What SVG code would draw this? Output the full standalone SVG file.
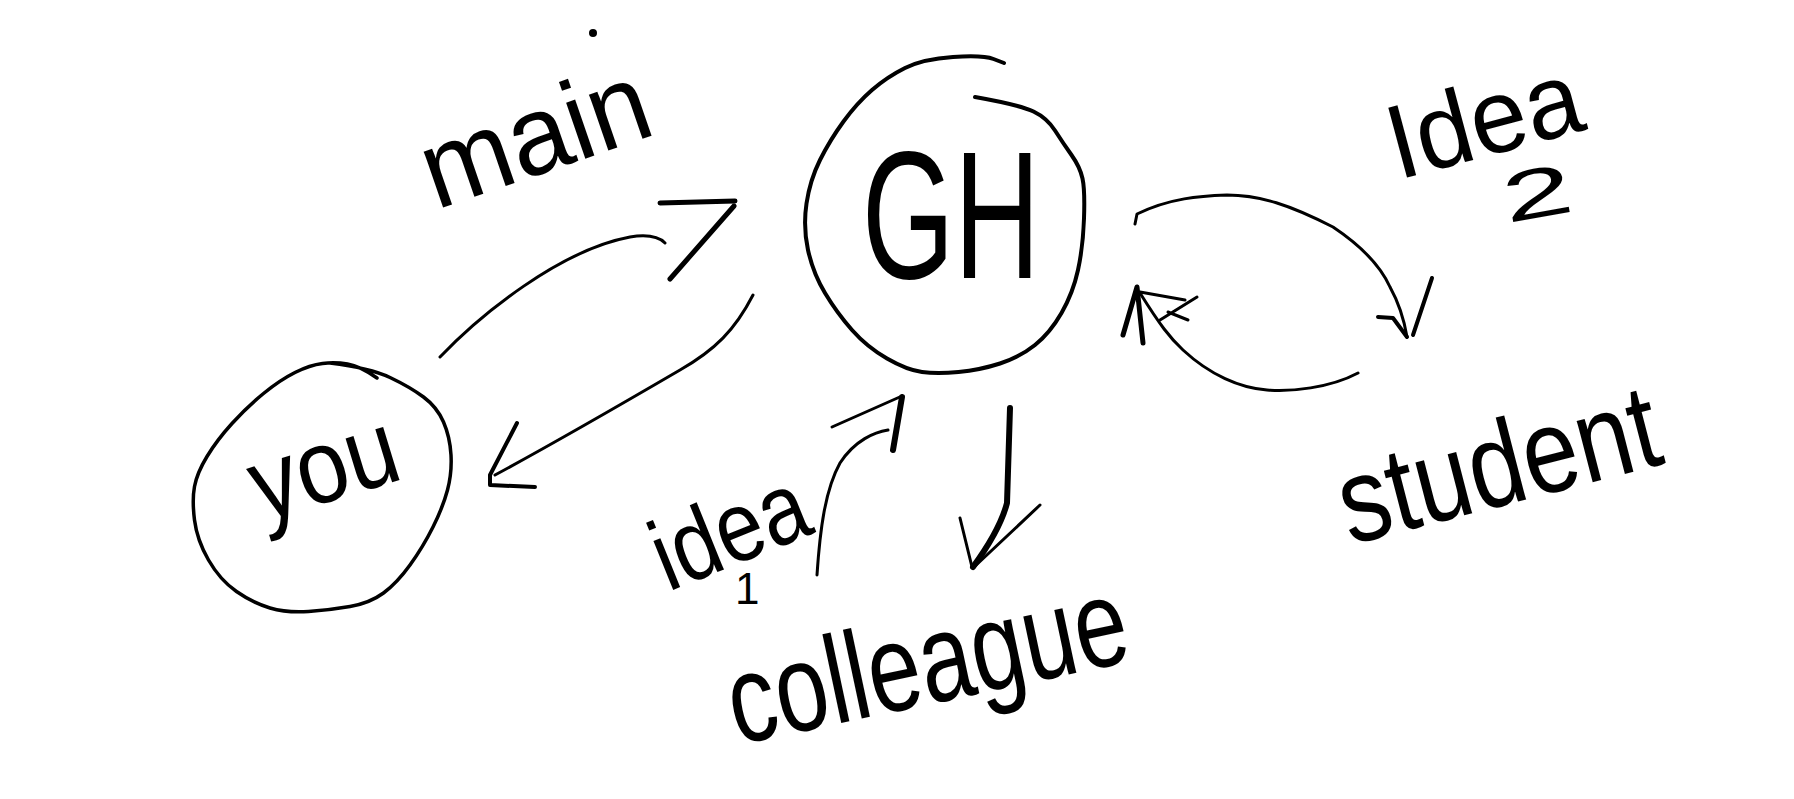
<svg xmlns="http://www.w3.org/2000/svg" width="1794" height="799" viewBox="0 0 1794 799">
<style>
.hw{font-family:"Liberation Sans","DejaVu Sans",sans-serif;fill:#000;}
.ln{fill:none;stroke:#000;stroke-width:3;stroke-linecap:round;stroke-linejoin:round;}
.hd{fill:none;stroke:#000;stroke-width:5;stroke-linecap:round;stroke-linejoin:round;}
</style>
<rect width="1794" height="799" fill="#fff"/>
<g id="node-gh">
<path class="ln" style="stroke-width:4" d="M975,97 Q1020,105 1033.5,111.5 Q1047,118 1055,130.5 Q1063,143 1071.5,155 Q1080,167 1082.5,178.5 Q1085,190 1084,218.5 Q1083,247 1078,270 Q1073,293 1061.5,313 Q1050,333 1035,345 Q1020,357 1000,363.5 Q980,370 958.5,372 Q937,374 922,372 Q907,370 887,358.5 Q867,347 852,330 Q837,313 825,293 Q813,273 808,250 Q803,227 806.5,203.5 Q810,180 820,160 Q830,140 843.5,121.5 Q857,103 872,90 Q887,77 905,68 Q923,59 953,57 Q983,55 993.5,59 L1004,63"/>
<text class="hw" x="862" y="278" font-size="182" textLength="178" lengthAdjust="spacingAndGlyphs">GH</text>
</g>
<g id="node-you">
<path class="ln" style="stroke-width:3.5" d="M330,363 Q370,368 390,377.5 Q410,387 423.5,397 Q437,407 443.5,422 Q450,437 451,455 Q452,473 447.5,490 Q443,507 433,527 Q423,547 410,565 Q397,583 383.5,593 Q370,603 350,606.5 Q330,610 308.5,611.5 Q287,613 270,608 Q253,603 236.5,591.5 Q220,580 208.5,560 Q197,540 194.5,520 Q192,500 194.5,486.5 Q197,473 207,456.5 Q217,440 232,423.5 Q247,407 263.5,393.5 Q280,380 295,372.5 Q310,365 322.5,363.5 Q335,362 347.5,364 Q360,366 377,378"/>
<text class="hw" x="262" y="522" font-size="105" textLength="150" lengthAdjust="spacingAndGlyphs" transform="rotate(-17 262 522)">you</text>
</g>
<g id="label-main">
<text class="hw" x="436" y="210" font-size="112" textLength="235" lengthAdjust="spacingAndGlyphs" transform="rotate(-19 436 210)">main</text>
<circle cx="593" cy="33" r="4" fill="#000"/>
</g>
<g id="label-idea2">
<text class="hw" x="1398" y="180" font-size="105" textLength="197" lengthAdjust="spacingAndGlyphs" transform="rotate(-15 1398 180)">Idea</text>
<text class="hw" x="1507" y="223" font-size="70" textLength="70" lengthAdjust="spacingAndGlyphs" transform="rotate(-10 1507 223)">2</text>
</g>
<g id="node-student">
<text class="hw" x="1350" y="545" font-size="120" textLength="327" lengthAdjust="spacingAndGlyphs" transform="rotate(-14.5 1350 545)">student</text>
</g>
<g id="label-idea1">
<text class="hw" x="668" y="592" font-size="100" textLength="160" lengthAdjust="spacingAndGlyphs" transform="rotate(-22 668 592)">idea</text>
<text class="hw" x="735" y="604" font-size="44">1</text>
</g>
<g id="node-colleague">
<text class="hw" x="737" y="745" font-size="125" textLength="406" lengthAdjust="spacingAndGlyphs" transform="rotate(-12 737 745)">colleague</text>
</g>
<g id="connectors">
<path class="ln" d="M440,357 C480,315 560,250 630,237 Q655,233 665,243"/>
<path class="hd" d="M660,203 L735,201 M734,206 L670,279"/>
<path class="ln" d="M753,295 C735,330 715,350 680,370 C620,405 560,440 495,475"/>
<path class="hd" style="stroke-width:4" d="M517,423 L490,475 L490,485 L535,487"/>
<path class="ln" d="M1135,224 L1137,214 C1170,198 1200,196 1227,195 C1260,195 1290,205 1333,227 C1360,245 1380,265 1390,287 C1400,305 1405,325 1407,337"/>
<path class="hd" style="stroke-width:4" d="M1378,317 L1393,318 L1407,337 M1432,278 L1413,335"/>
<path class="ln" d="M1358,373 C1330,388 1290,392 1267,390 C1240,388 1210,375 1183,350 C1170,338 1160,325 1140,293"/>
<path class="hd" d="M1123,335 L1137,287 L1143,343"/>
<path class="ln" d="M1140,292 L1185,300 M1160,320 L1197,297 M1168,312 L1188,320"/>
<path class="ln" d="M817,575 C820,530 825,490 840,463 C855,440 875,432 888,430"/>
<path class="ln" d="M832,427 L902,396"/>
<path class="hd" style="stroke-width:6" d="M902,397 L893,450"/>
<path class="hd" style="stroke-width:6" d="M1010,408 L1007,503 Q1000,530 973,567"/>
<path class="ln" d="M960,518 L972,567 M1040,505 L973,568"/>
</g>
</svg>
